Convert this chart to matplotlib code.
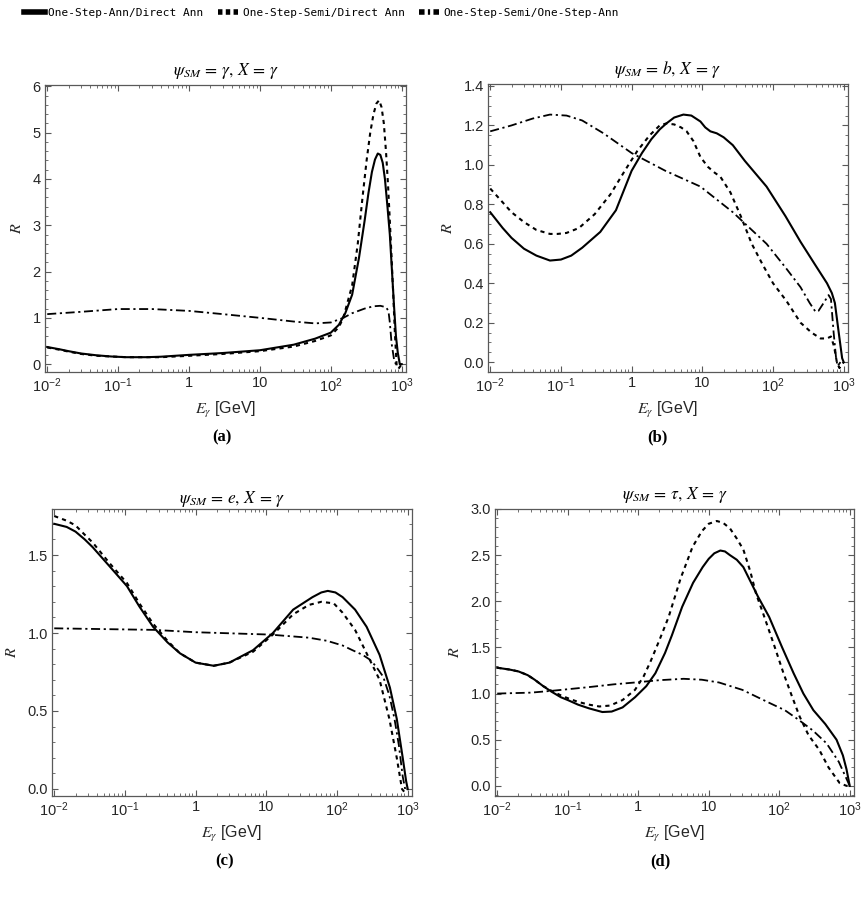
import matplotlib
matplotlib.use('Agg')
import matplotlib.pyplot as plt
from matplotlib.lines import Line2D
from matplotlib.ticker import FixedLocator, FixedFormatter, LogLocator, MultipleLocator, NullFormatter

plt.rcParams['font.family'] = ['Liberation Sans', 'DejaVu Sans']
plt.rcParams['mathtext.fontset'] = 'stix'

# ---- data (E in GeV, R) ----
# (a) psi_SM = gamma
a_ann_E = [0.01, 0.015, 0.02, 0.03, 0.05, 0.08, 0.13, 0.25, 0.4, 1, 3, 10, 30, 60, 100, 130,
           160, 200, 250, 300, 340, 380, 420, 460, 500, 540, 580, 630, 680, 730, 780, 830,
           880, 940, 1000]
a_ann_R = [0.37, 0.32, 0.28, 0.23, 0.19, 0.165, 0.15, 0.15, 0.16, 0.2, 0.24, 0.3, 0.42, 0.55,
           0.68, 0.85, 1.1, 1.5, 2.3, 3.1, 3.7, 4.15, 4.42, 4.55, 4.52, 4.35, 4.0, 3.4, 2.8,
           2.0, 1.25, 0.6, 0.25, 0.0, 0.0]
a_semi_E = [0.01, 0.015, 0.02, 0.03, 0.05, 0.13, 0.4, 1, 3, 10, 30, 60, 100, 130, 150, 200,
            240, 280, 320, 360, 400, 440, 480, 520, 560, 600, 640, 680, 720, 760, 800, 850,
            900, 950, 1000]
a_semi_R = [0.36, 0.31, 0.27, 0.22, 0.18, 0.15, 0.15, 0.18, 0.22, 0.28, 0.38, 0.5, 0.62, 0.8,
            1.0, 1.7, 2.6, 3.6, 4.4, 5.0, 5.4, 5.63, 5.7, 5.55, 5.2, 4.6, 3.9, 3.1, 2.3, 1.5,
            0.7, -0.05, -0.1, -0.05, 0.0]
a_ratio_E = [0.01, 0.03, 0.1, 0.3, 1, 3, 10, 30, 60, 100, 150, 200, 300, 400, 500, 600, 650,
             680, 720, 780, 850]
a_ratio_R = [1.08, 1.13, 1.19, 1.19, 1.15, 1.08, 1.0, 0.92, 0.88, 0.9, 1.0, 1.1, 1.2, 1.25,
             1.26, 1.23, 1.15, 0.9, 0.45, 0.1, -0.05]

# (b) psi_SM = b
b_ann_E = [0.01, 0.015, 0.02, 0.03, 0.045, 0.07, 0.1, 0.14, 0.2, 0.36, 0.6, 1.0, 1.4, 1.9,
           2.5, 3.1, 4, 5.4, 7, 9.4, 11, 13, 16, 20, 27, 40, 81, 150, 245, 400, 580, 680,
           750, 850, 950, 1000]
b_ann_R = [0.76, 0.68, 0.63, 0.575, 0.54, 0.515, 0.52, 0.54, 0.58, 0.66, 0.77, 0.97, 1.06,
           1.13, 1.18, 1.21, 1.24, 1.255, 1.25, 1.22, 1.19, 1.17, 1.16, 1.14, 1.1, 1.02,
           0.89, 0.74, 0.61, 0.49, 0.4, 0.35, 0.3, 0.15, 0.02, 0.0]
b_semi_E = [0.01, 0.015, 0.02, 0.03, 0.045, 0.07, 0.09, 0.12, 0.18, 0.3, 0.5, 0.8, 1.2, 1.8,
            2.5, 3.1, 4, 5, 6, 7.5, 9.4, 12, 15, 18, 25, 35, 50, 70, 100, 155, 245, 350, 470,
            580, 660, 730, 800, 870, 1000]
b_semi_R = [0.88, 0.81, 0.76, 0.71, 0.67, 0.65, 0.65, 0.655, 0.68, 0.75, 0.85, 0.97, 1.07,
            1.15, 1.2, 1.21, 1.205, 1.19, 1.17, 1.12, 1.04, 0.99, 0.96, 0.94, 0.86, 0.74, 0.6,
            0.5, 0.4, 0.31, 0.2, 0.15, 0.12, 0.12, 0.13, 0.08, 0.0, -0.03, 0.0]
b_ratio_E = [0.01, 0.02, 0.04, 0.07, 0.12, 0.2, 0.4, 1, 3, 9.4, 27, 81, 150, 245, 330, 400,
             440, 520, 610, 660, 720, 780, 820, 900]
b_ratio_R = [1.17, 1.2, 1.235, 1.255, 1.25, 1.225, 1.16, 1.06, 0.97, 0.89, 0.76, 0.6, 0.48,
             0.38, 0.3, 0.255, 0.26, 0.3, 0.34, 0.32, 0.15, 0.02, -0.02, 0.0]

# (c) psi_SM = e
c_ann_E = [0.01, 0.015, 0.02, 0.027, 0.035, 0.06, 0.107, 0.16, 0.25, 0.4, 0.6, 1, 1.8, 3,
           6.5, 12.4, 24, 45, 60, 74, 95, 120, 180, 262, 400, 560, 700, 850, 950, 1000]
c_ann_R = [1.70, 1.68, 1.65, 1.6, 1.55, 1.43, 1.30, 1.17, 1.04, 0.94, 0.87, 0.81, 0.79,
           0.81, 0.89, 1.0, 1.15, 1.23, 1.26, 1.27, 1.26, 1.23, 1.15, 1.04, 0.86, 0.65, 0.45,
           0.2, 0.05, 0.0]
c_semi_E = [0.01, 0.015, 0.02, 0.027, 0.035, 0.06, 0.107, 0.16, 0.25, 0.4, 0.6, 1, 1.8, 3,
            6.5, 12.4, 24, 40, 60, 90, 120, 180, 262, 400, 550, 700, 830, 900, 1000]
c_semi_R = [1.75, 1.72, 1.69, 1.63, 1.58, 1.45, 1.32, 1.19, 1.06, 0.95, 0.87, 0.81, 0.79,
            0.81, 0.88, 0.99, 1.12, 1.18, 1.20, 1.19, 1.13, 1.02, 0.87, 0.70, 0.45, 0.2, 0.0,
            -0.02, 0.0]
c_ratio_E = [0.01, 0.05, 0.26, 1, 11, 40, 72, 120, 165, 230, 290, 350, 450, 550, 650, 750,
             850, 920]
c_ratio_R = [1.03, 1.025, 1.02, 1.005, 0.99, 0.97, 0.95, 0.92, 0.89, 0.86, 0.83, 0.79, 0.72,
             0.6, 0.45, 0.28, 0.08, 0.0]

# (d) psi_SM = tau
d_ann_E = [0.01, 0.015, 0.02, 0.027, 0.034, 0.045, 0.059, 0.08, 0.1, 0.14, 0.2, 0.31, 0.42,
           0.6, 0.9, 1.3, 1.75, 2.4, 3, 4.2, 6, 8.2, 10, 12, 14.6, 17, 20, 25, 31, 40, 50,
           72, 110, 160, 220, 305, 450, 650, 800, 900, 1000]
d_ann_R = [1.28, 1.26, 1.24, 1.2, 1.15, 1.08, 1.02, 0.96, 0.93, 0.88, 0.84, 0.80, 0.805,
           0.85, 0.96, 1.08, 1.22, 1.44, 1.63, 1.94, 2.2, 2.37, 2.46, 2.52, 2.55, 2.54, 2.5,
           2.45, 2.37, 2.2, 2.05, 1.83, 1.5, 1.22, 1.0, 0.82, 0.67, 0.5, 0.33, 0.18, 0.0]
d_semi_E = [0.01, 0.015, 0.02, 0.027, 0.034, 0.045, 0.059, 0.08, 0.1, 0.14, 0.2, 0.28, 0.4,
            0.6, 0.9, 1.2, 1.5, 2, 2.7, 4, 5.9, 8, 10, 13, 16, 20, 25, 31, 39, 47, 59, 85,
            115, 150, 195, 260, 370, 500, 720, 900, 1000]
d_semi_R = [1.28, 1.26, 1.24, 1.2, 1.15, 1.08, 1.03, 0.98, 0.95, 0.91, 0.88, 0.86, 0.87,
            0.93, 1.04, 1.19, 1.35, 1.58, 1.83, 2.25, 2.59, 2.76, 2.84, 2.87, 2.85, 2.79,
            2.68, 2.56, 2.32, 2.08, 1.87, 1.52, 1.22, 0.98, 0.75, 0.55, 0.39, 0.2, 0.03, 0.0,
            0.0]
d_ratio_E = [0.01, 0.03, 0.06, 0.2, 0.45, 0.9, 2, 4.4, 8, 14, 30, 72, 120, 185, 300, 470,
             700, 1000]
d_ratio_R = [1.0, 1.01, 1.03, 1.07, 1.1, 1.12, 1.145, 1.16, 1.15, 1.12, 1.04, 0.9, 0.82,
             0.72, 0.6, 0.46, 0.26, 0.0]

series_names = ['One-Step-Ann/Direct Ann', 'One-Step-Semi/Direct Ann',
                'One-Step-Semi/One-Step-Ann']
titles = [r'$\psi_{SM} \,=\, \gamma,\, X \,=\, \gamma$', r'$\psi_{SM} \,=\, b,\, X \,=\, \gamma$',
          r'$\psi_{SM} \,=\, e,\, X \,=\, \gamma$', r'$\psi_{SM} \,=\, \tau,\, X \,=\, \gamma$']
captions = ['(a)', '(b)', '(c)', '(d)']
x_ticks = [1e-2, 1e-1, 1, 10, 1e2, 1e3]
x_tick_labels = [r'$\mathdefault{10^{-2}}$', r'$\mathdefault{10^{-1}}$', '1', '10',
                 r'$\mathdefault{10^{2}}$', r'$\mathdefault{10^{3}}$']

panels = [
    (a_ann_E, a_ann_R, a_semi_E, a_semi_R, a_ratio_E, a_ratio_R),
    (b_ann_E, b_ann_R, b_semi_E, b_semi_R, b_ratio_E, b_ratio_R),
    (c_ann_E, c_ann_R, c_semi_E, c_semi_R, c_ratio_E, c_ratio_R),
    (d_ann_E, d_ann_R, d_semi_E, d_semi_R, d_ratio_E, d_ratio_R),
]
ylims = [(-0.17, 6.03), (-0.05, 1.41), (-0.045, 1.795), (-0.11, 3.0)]
y_major = [1, 0.2, 0.5, 0.5]
y_minor = [0.2, 0.05, 0.1, 0.1]
y_fmt = ['%d', '%.1f', '%.1f', '%.1f']

W, H = 868, 901
# axes boxes in pixels: left, top, right, bottom
boxes = [(45, 85, 406, 372), (488, 84, 848, 372), (52, 509, 412, 796), (495, 509, 854, 796)]
title_pads = [7, 7, 1.5, 7]
caption_x = [222, 657, 225, 660]

styles = ['-', (0, (2, 2)), (0, (5, 2, 1.2, 2))]

fig = plt.figure(figsize=(W / 100, H / 100), dpi=100)

for i, (ann_E, ann_R, semi_E, semi_R, ratio_E, ratio_R) in enumerate(panels):
    l, t, r, b = boxes[i]
    ax = fig.add_axes([l / W, 1 - b / H, (r - l) / W, (b - t) / H])
    ax.plot(ann_E, ann_R, color='black', lw=1.5, linestyle=styles[0])
    ax.plot(semi_E, semi_R, color='black', lw=1.5, linestyle=styles[1])
    ax.plot(ratio_E, ratio_R, color='black', lw=1.3, linestyle=styles[2])

    ax.set_xscale('log')
    ax.set_xlim(0.0093, 1.15e3)
    ax.set_ylim(*ylims[i])
    ax.xaxis.set_major_locator(FixedLocator(x_ticks))
    ax.xaxis.set_major_formatter(FixedFormatter(x_tick_labels))
    ax.xaxis.set_minor_locator(LogLocator(base=10, subs=range(2, 10), numticks=20))
    ax.xaxis.set_minor_formatter(NullFormatter())
    ax.yaxis.set_major_locator(MultipleLocator(y_major[i]))
    ax.yaxis.set_minor_locator(MultipleLocator(y_minor[i]))
    ax.yaxis.set_major_formatter(plt.FormatStrFormatter(y_fmt[i]))

    ax.tick_params(which='both', direction='in', top=True, right=True,
                   color='0.35', labelsize=10.5, labelcolor='0.15')
    ax.tick_params(which='major', length=4, width=0.8, pad=3)
    ax.tick_params(which='minor', length=2.2, width=0.6)
    for sp in ax.spines.values():
        sp.set_color('0.35')
        sp.set_linewidth(0.9)

    ax.set_title(titles[i], fontsize=12.5, pad=title_pads[i])
    ax.set_xlabel(r'$E_\gamma$ [GeV]', fontsize=11.5, color='0.15')
    ax.set_ylabel(r'$R$', fontsize=11.5, labelpad=6, color='0.15')

    fig.text(caption_x[i] / W, 1 - (b + 65) / H, captions[i], ha='center', va='center',
             fontsize=12, fontweight='bold', family='Liberation Serif')

# legend at the top, monospace like the original
handles = [Line2D([], [], color='black', lw=4, linestyle=styles[0]),
           Line2D([], [], color='black', lw=4, linestyle=(0, (0.8, 0.6))),
           Line2D([], [], color='black', lw=4, linestyle=(0, (1.0, 0.6, 0.4, 0.6)))]
fig.legend(handles, series_names, loc='upper left', bbox_to_anchor=(0.02, 0.999), ncol=3,
           frameon=False, prop={'family': 'DejaVu Sans Mono', 'size': 8},
           handlelength=1.9, handletextpad=0.3, columnspacing=1.3, borderaxespad=0.2)

plt.savefig('out.png', dpi=100)
